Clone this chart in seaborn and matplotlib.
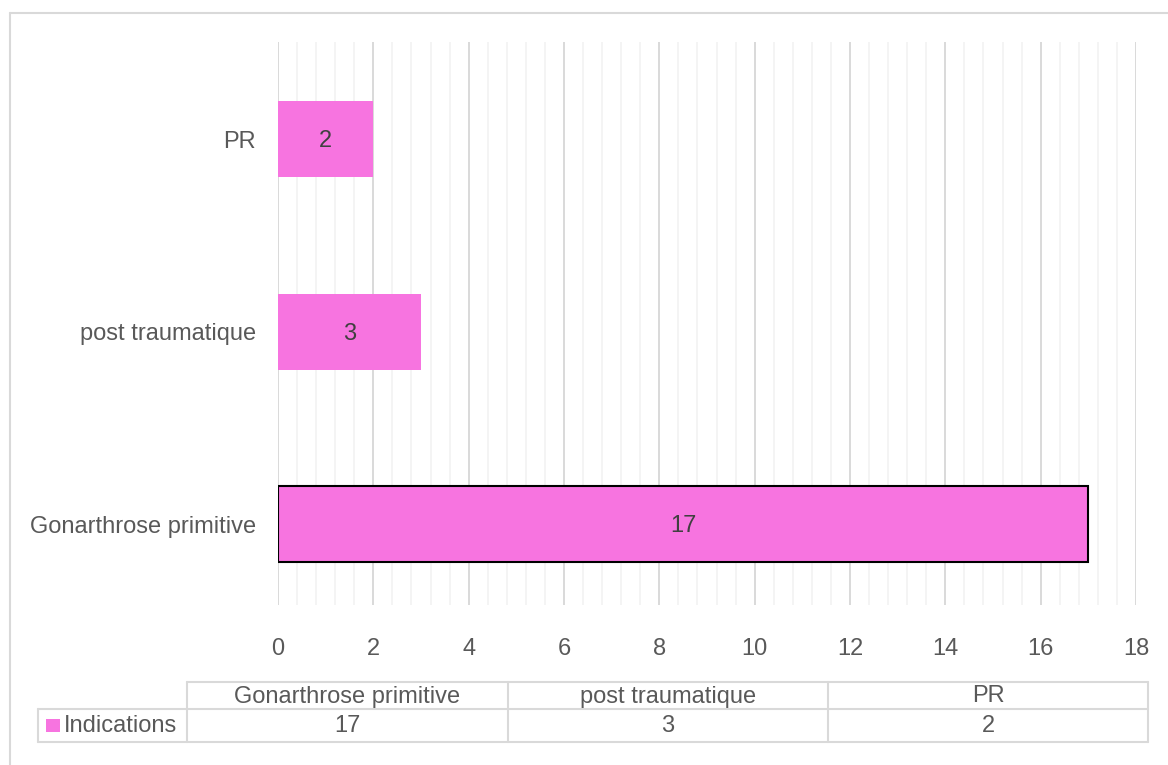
import matplotlib
matplotlib.use("Agg")
import matplotlib.pyplot as plt
from matplotlib.patches import Rectangle
from matplotlib.lines import Line2D
from matplotlib.ticker import MultipleLocator
import seaborn as sns
import pandas as pd

# Data
categories = ["Gonarthrose primitive", "post traumatique", "PR"]
values = [17, 3, 2]
series_name = "Indications"
x_ticks = [0, 2, 4, 6, 8, 10, 12, 14, 16, 18]

bar_color = "#F774E0"
text_color = "#595959"
grid_major = "#D9D9D9"
grid_minor = "#F2F2F2"
fs = 17

sns.set_theme(style="white")
plt.rcParams["font.family"] = ["Liberation Sans", "DejaVu Sans"]

df = pd.DataFrame({"cat": categories, "val": values})

fig = plt.figure(figsize=(11.68, 7.65), dpi=100)
W, H = 1168, 765

def fx(px):
    return px / W

def fy(py):
    return 1 - py / H

ax = fig.add_axes([fx(278), fy(605), fx(1136) - fx(278), fy(42) - fy(605)])

order = categories[::-1]
sns.barplot(data=df, x="val", y="cat", order=order, orient="h",
            color=bar_color, saturation=1, width=0.395, ax=ax, zorder=3)

for p in ax.patches:
    p.set_edgecolor("none")
# outline on the leading category
for p, c in zip(ax.patches, order):
    if c == categories[0]:
        p.set_edgecolor("black")
        p.set_linewidth(1.5)

for p, c in zip(ax.patches, order):
    v = values[categories.index(c)]
    ax.annotate(f"{v}", (p.get_x() + p.get_width() / 2, p.get_y() + p.get_height() / 2),
                xytext=(0, -1.5), textcoords="offset points",
                ha="center", va="center", fontsize=fs, color="#404040",
                zorder=4)

ax.set_xlim(0, 18)
ax.set_ylim(2.42, -0.504)
ax.set_xticks(x_ticks)
ax.set_xticklabels([str(t) for t in x_ticks])
ax.xaxis.set_minor_locator(MultipleLocator(0.4))
ax.grid(False)
ax.grid(which="major", axis="x", color=grid_major, linewidth=1.4, zorder=0)
ax.grid(which="minor", axis="x", color=grid_minor, linewidth=1.2, zorder=0)
ax.set_axisbelow(True)
for s in ax.spines.values():
    s.set_visible(False)
ax.tick_params(axis="x", which="both", length=0, pad=24, labelsize=fs,
               labelcolor=text_color)
ax.tick_params(axis="y", length=0, pad=16, labelsize=fs, labelcolor=text_color)
ax.set_xlabel("")
ax.set_ylabel("")

# data table under the plot
line_kw = dict(color=grid_major, linewidth=1.5, transform=fig.transFigure)
cols = [187, 508, 828, 1148]
r0, r1, r2 = 682, 709, 742
fig.add_artist(Line2D([fx(187), fx(1148)], [fy(r0), fy(r0)], **line_kw))
fig.add_artist(Line2D([fx(38), fx(1148)], [fy(r1), fy(r1)], **line_kw))
fig.add_artist(Line2D([fx(38), fx(1148)], [fy(r2), fy(r2)], **line_kw))
fig.add_artist(Line2D([fx(38), fx(38)], [fy(r1), fy(r2)], **line_kw))
for c in cols:
    fig.add_artist(Line2D([fx(c), fx(c)], [fy(r0), fy(r2)], **line_kw))

for i, (cat, v) in enumerate(zip(categories, values)):
    xc = (cols[i] + cols[i + 1]) / 2
    fig.text(fx(xc), fy((r0 + r1) / 2 + 1), cat, ha="center", va="center",
             fontsize=fs, color=text_color)
    fig.text(fx(xc), fy((r1 + r2) / 2 + 1), str(v), ha="center", va="center",
             fontsize=fs, color=text_color)

fig.add_artist(Rectangle((fx(46), fy(732)), fx(14), fy(719) - fy(732),
                         facecolor=bar_color, edgecolor="none",
                         transform=fig.transFigure))
fig.text(fx(64), fy((r1 + r2) / 2 + 1), series_name, ha="left", va="center",
         fontsize=fs, color=text_color)

# outer frame (top and left edges inside the canvas)
frame_kw = dict(color=grid_major, linewidth=1.5, transform=fig.transFigure)
fig.add_artist(Line2D([fx(10), 1.0], [fy(13), fy(13)], **frame_kw))
fig.add_artist(Line2D([fx(10), fx(10)], [fy(13), 0.0], **frame_kw))

fig.savefig("out.png", dpi=100)
